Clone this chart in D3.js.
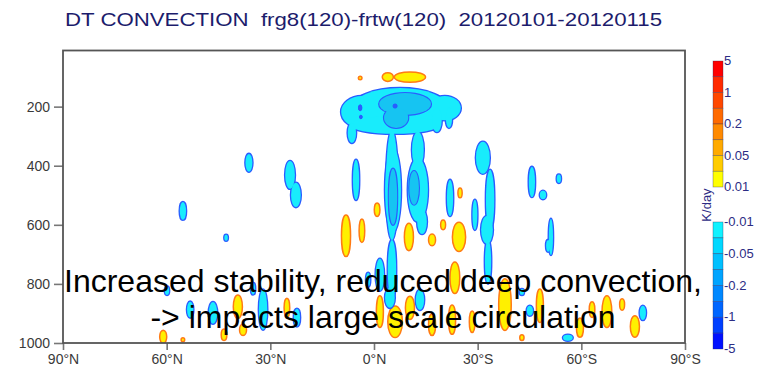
<!DOCTYPE html>
<html>
<head>
<meta charset="utf-8">
<script src="https://cdn.jsdelivr.net/npm/d3@7"></script>
<style>
  body { margin: 0; background: #fff; }
  svg { display: block; font-family: "Liberation Sans", Arial, sans-serif; }
</style>
</head>
<body>
<svg id="chart" width="760" height="367"></svg>
<script>
// ------- data -------
var title = "DT CONVECTION  frg8(120)-frtw(120)  20120101-20120115";
var latTicks = [90, 60, 30, 0, -30, -60, -90];
var latLabels = ["90°N", "60°N", "30°N", "0°N", "30°S", "60°S", "90°S"];
var pTicks = [200, 400, 600, 800, 1000];

// colour bar boundaries, top to bottom
var warmLevels = [5, 2, 1, 0.5, 0.2, 0.1, 0.05, 0.02, 0.01];
var coolLevels = [-0.01, -0.02, -0.05, -0.1, -0.2, -0.5, -1, -2, -5];
var warmColors = ["#ff0000", "#ff2a00", "#ff4800", "#ff6a00", "#ff8a00", "#ffaa00", "#ffcc00", "#ffff00"];
var coolColors = ["#10f2ff", "#00d8ff", "#00c0ff", "#00a4ff", "#0088ff", "#0066ff", "#0040ff", "#0010ff"];

// cells: [lat, pressure hPa, half width deg, half height hPa]
// warming > 0.01 K/day
var warmCells = [
  [-4, 100, 1.4, 12], [-10.4, 100, 4.3, 15], [4, 103, 0.3, 3.4],
  [8.1, 637, 1.1, 68], [3.5, 620, 0.6, 37], [-0.9, 549, 0.6, 20],
  [-10.1, 641, 1.1, 44], [-16.8, 651, 0.8, 17], [-24.6, 641, 1.7, 47],
  [-24.9, 492, 0.4, 14], [-20, 600, 0.5, 14],
  [39.4, 877, 1.1, 37], [37.9, 955, 0.8, 17], [61, 979, 0.8, 20],
  [43.4, 972, 0.6, 17], [55.3, 989, 0.3, 4], [25.2, 881, 0.6, 30],
  [-1.7, 894, 0.8, 51], [-6.1, 928, 1.9, 51], [-10.4, 881, 1.1, 37],
  [-23.4, 779, 1.2, 51], [-37.9, 870, 1.6, 85], [-48, 874, 0.8, 54],
  [-42.8, 982, 0.4, 7], [-59.6, 948, 0.8, 30], [-63.1, 887, 0.6, 24],
  [-67.4, 894, 1.2, 51], [-71.8, 870, 0.5, 17], [-75.5, 944, 1.1, 34],
  [-22.6, 921, 0.8, 47], [-16.8, 938, 0.8, 34], [-28.4, 928, 0.6, 34]
];
// cooling < -0.01 K/day
var coolCells = [
  [-7.5, 205, 14, 68], [3.5, 218, 6, 54], [-20.5, 205, 4.6, 41],
  [-6, 262, 13, 30], [6.4, 289, 1.2, 34], [-18.2, 245, 1.4, 41],
  [-21.7, 238, 0.9, 34],
  [-5.2, 465, 1.7, 186], [-5.5, 482, 2.3, 142], [-5.2, 752, 1.2, 101],
  [-4.6, 847, 1.4, 34],
  [-12.7, 346, 1.7, 61], [-12.7, 482, 2.9, 108], [-13.9, 590, 1.4, 41],
  [-31.5, 373, 2, 54], [-33.6, 515, 1.2, 101], [-32.7, 617, 1.7, 47],
  [-33, 725, 0.9, 74],
  [-22, 509, 0.9, 61], [-29.2, 566, 0.7, 51], [-45.7, 455, 0.9, 51],
  [-48.9, 499, 0.9, 14], [-53.5, 444, 0.6, 14], [-51.2, 641, 0.6, 61],
  [5.2, 448, 0.9, 68],
  [36.2, 390, 1, 30], [24.3, 431, 1.4, 47], [22.6, 499, 1.4, 41],
  [55.3, 553, 0.9, 30], [42.8, 644, 0.5, 10],
  [59.9, 823, 0.6, 14], [53.2, 887, 0.9, 27], [46.6, 898, 1.2, 37],
  [32.1, 887, 1.2, 68], [35, 816, 0.6, 20], [22.3, 914, 0.9, 30],
  [1.7, 786, 0.6, 24], [-1.7, 769, 1.2, 54], [-13.3, 854, 1.2, 34],
  [-50.4, 671, 0.6, 20], [-45.1, 891, 0.9, 17], [-42.8, 827, 0.6, 10],
  [-56.1, 982, 1.4, 10], [-77.8, 898, 0.9, 24]
];
// cooling < -0.02 K/day
var coolCores = [
  [-9, 191, 7.5, 37], [-6.4, 238, 3.5, 34],
  [-5.5, 505, 1.2, 95], [-11.6, 475, 1.4, 57]
];
// cooling < -0.05 K/day
var coolPeaks = [
  [-6.1, 198, 0.6, 7], [4, 204, 0.5, 10], [3.8, 235, 0.4, 6]
];

// ------- scales -------
var svg = d3.select("#chart");
var plot = { left: 63, top: 50.5, right: 685, bottom: 343 };

var x = d3.scaleLinear().domain([90, -90]).range([plot.left, plot.right]);
var y = d3.scaleLinear().domain([10, 1000]).range([plot.top, plot.bottom]);

svg.append("clipPath").attr("id", "clip")
  .append("rect")
  .attr("x", plot.left).attr("y", plot.top)
  .attr("width", plot.right - plot.left).attr("height", plot.bottom - plot.top);

var field = svg.append("g").attr("clip-path", "url(#clip)");

// draw a set of cells as one union: outline layer first, then fill on top
function drawCells(cells, fill, line, lineWidth) {
  var g = field.append("g");
  g.selectAll(".edge")
    .data(cells)
    .enter()
    .append("ellipse")
    .attr("class", "edge")
    .attr("cx", function (d) { return x(d[0]); })
    .attr("cy", function (d) { return y(d[1]); })
    .attr("rx", function (d) { return Math.abs(x(d[2]) - x(0)); })
    .attr("ry", function (d) { return y(d[3]) - y(0); })
    .style("fill", line)
    .style("stroke", line)
    .style("stroke-width", lineWidth);
  g.selectAll(".core")
    .data(cells)
    .enter()
    .append("ellipse")
    .attr("class", "core")
    .attr("cx", function (d) { return x(d[0]); })
    .attr("cy", function (d) { return y(d[1]); })
    .attr("rx", function (d) { return Math.abs(x(d[2]) - x(0)); })
    .attr("ry", function (d) { return y(d[3]) - y(0); })
    .style("fill", fill);
}

drawCells(warmCells, "#fff000", "#ff7a14", 3);
drawCells(coolCells, "#18ecfc", "#2a5cff", 2.6);
drawCells(coolCores, "#16c4f2", "#2a5cff", 2.2);
drawCells(coolPeaks, "#2a5cff", "#2a5cff", 1);

// ------- axes -------
var yAxis = d3.axisLeft(y).tickValues(pTicks).tickSize(9).tickPadding(4)
  .tickFormat(d3.format("d"));
var xAxis = d3.axisBottom(x).tickValues(latTicks).tickSize(7).tickPadding(4)
  .tickFormat(function (d, i) { return latLabels[i]; });

var gy = svg.append("g").attr("transform", "translate(" + plot.left + ",0)").call(yAxis);
var gx = svg.append("g").attr("transform", "translate(0," + plot.bottom + ")").call(xAxis);

[gx, gy].forEach(function (g) {
  g.select(".domain").remove();
  g.selectAll("line").style("stroke", "#777").style("stroke-width", 1.6);
  g.selectAll("text")
    .style("font-size", "14px")
    .style("fill", "#3a3a3a")
    .style("font-family", "'Liberation Sans', Arial, sans-serif");
});

svg.append("rect")
  .attr("x", plot.left).attr("y", plot.top)
  .attr("width", plot.right - plot.left).attr("height", plot.bottom - plot.top)
  .style("fill", "none")
  .style("stroke", "#555")
  .style("stroke-width", 1.8);

// ------- title -------
svg.append("text")
  .attr("x", 65)
  .attr("y", 26)
  .attr("textLength", 597)
  .attr("lengthAdjust", "spacingAndGlyphs")
  .style("white-space", "pre")
  .style("font-size", "19px")
  .style("fill", "#1c1c6c")
  .text(title);

// ------- colour bar -------
var barX = 713, barW = 10;
var warmBar = d3.scaleLinear().domain([0, warmColors.length]).range([61, 187]);
var coolBar = d3.scaleLinear().domain([0, coolColors.length]).range([222, 349]);

function drawBar(scale, colors, levels) {
  var g = svg.append("g");
  g.selectAll("rect")
    .data(colors)
    .enter()
    .append("rect")
    .attr("x", barX)
    .attr("y", function (d, i) { return scale(i); })
    .attr("width", barW)
    .attr("height", function (d, i) { return scale(i + 1) - scale(i); })
    .style("fill", function (d) { return d; })
    .style("stroke", "rgba(40,40,90,0.55)")
    .style("stroke-width", 0.6);
  g.selectAll("text")
    .data(levels.filter(function (d, i) { return i % 2 === 0; }))
    .enter()
    .append("text")
    .attr("x", barX + barW + 1)
    .attr("y", function (d, i) { return scale(i * 2) + 4; })
    .style("font-size", "13px")
    .style("fill", "#2c2c84")
    .text(function (d) { return String(d); });
}
drawBar(warmBar, warmColors, warmLevels);
drawBar(coolBar, coolColors, coolLevels);

svg.append("text")
  .attr("transform", "translate(711,205) rotate(-90)")
  .attr("text-anchor", "middle")
  .style("font-size", "13px")
  .style("fill", "#2c2c84")
  .text("K/day");

// ------- annotation -------
var note = svg.append("g")
  .style("font-size", "32px")
  .style("fill", "#000")
  .attr("text-anchor", "middle");
note.append("text").attr("x", 383).attr("y", 292)
  .text("Increased stability, reduced deep convection,");
note.append("text").attr("x", 383).attr("y", 328)
  .text("-> impacts large scale circulation");
</script>
</body>
</html>
